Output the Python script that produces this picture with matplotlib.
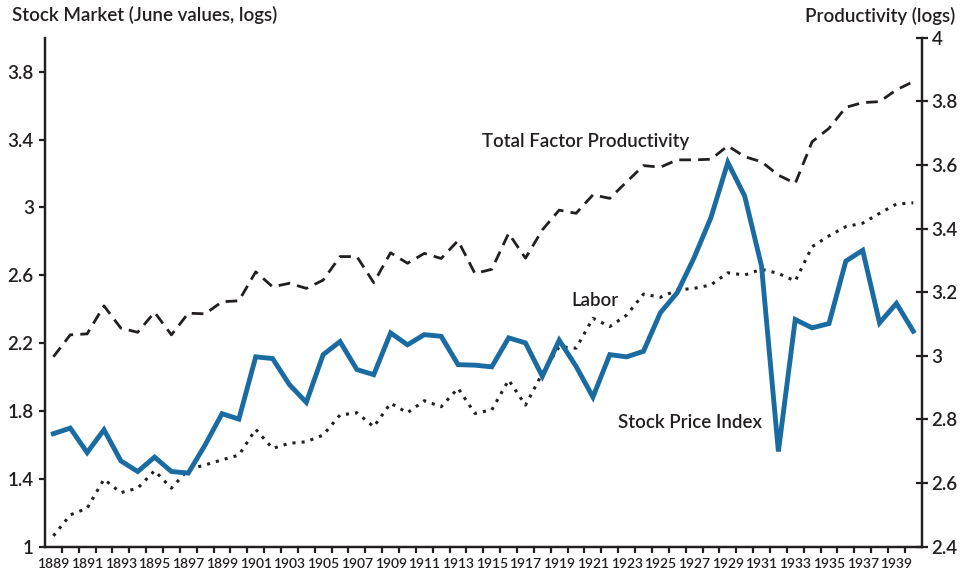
import matplotlib.pyplot as plt
import numpy as np

plt.rcParams['font.family'] = ['Lato', 'DejaVu Sans']
plt.rcParams['font.weight'] = 'semibold'

# Years 1889-1940
years = np.arange(1889, 1941)

# Stock price index (left axis, June values, logs)
stock = [1.666, 1.699, 1.555, 1.689, 1.506, 1.443, 1.528, 1.443, 1.434, 1.600,
         1.784, 1.752, 2.119, 2.109, 1.955, 1.851, 2.132, 2.209, 2.044, 2.014,
         2.260, 2.190, 2.250, 2.240, 2.073, 2.070, 2.060, 2.231, 2.201, 2.004,
         2.217, 2.063, 1.882, 2.132, 2.119, 2.152, 2.379, 2.497, 2.703, 2.940,
         3.265, 3.067, 2.654, 1.561, 2.339, 2.290, 2.315, 2.683, 2.747, 2.319,
         2.434, 2.270]

# Total factor productivity (right axis, logs)
tfp = [2.997, 3.066, 3.069, 3.157, 3.087, 3.074, 3.137, 3.066, 3.134, 3.132,
       3.170, 3.173, 3.264, 3.217, 3.228, 3.212, 3.238, 3.312, 3.312, 3.230,
       3.324, 3.291, 3.322, 3.306, 3.362, 3.259, 3.272, 3.385, 3.307, 3.396,
       3.458, 3.448, 3.506, 3.495, 3.547, 3.598, 3.593, 3.616, 3.616, 3.618,
       3.660, 3.626, 3.610, 3.568, 3.542, 3.673, 3.715, 3.781, 3.796, 3.799,
       3.836, 3.862]

# Labor productivity (right axis, logs)
labor = [2.434, 2.500, 2.521, 2.612, 2.570, 2.584, 2.639, 2.584, 2.643, 2.657,
         2.673, 2.688, 2.769, 2.709, 2.725, 2.730, 2.751, 2.814, 2.821, 2.777,
         2.851, 2.821, 2.859, 2.840, 2.898, 2.819, 2.830, 2.924, 2.845, 2.945,
         3.029, 3.024, 3.118, 3.092, 3.128, 3.194, 3.184, 3.207, 3.212, 3.223,
         3.261, 3.254, 3.272, 3.259, 3.235, 3.343, 3.377, 3.406, 3.417, 3.448,
         3.477, 3.481]

left_ticks = [1, 1.4, 1.8, 2.2, 2.6, 3, 3.4, 3.8]
right_ticks = [2.4, 2.6, 2.8, 3, 3.2, 3.4, 3.6, 3.8, 4]

ink = '#231f20'
blue = '#1a6ba1'

fig = plt.figure(figsize=(9.61, 5.80), dpi=100)
ax = fig.add_axes([0.0468, 0.0574, 0.9123, 0.8776])
ax2 = ax.twinx()

# productivity lines on the right axis
ax2.plot(years, tfp, color=ink, lw=2.0, linestyle=(0, (4.2, 2.6)))
ax2.plot(years, labor, color=ink, lw=2.2, linestyle=(0, (1.0, 2.0)))

# stock line on the left axis, drawn above the others
ax.plot(years, stock, color=blue, lw=3.5, solid_joinstyle='miter')
ax.set_zorder(ax2.get_zorder() + 1)
ax.patch.set_visible(False)

ax.set_xlim(1888.5, 1940.5)
ax.set_ylim(1, 4)
ax2.set_ylim(2.4, 4)

for a in (ax, ax2):
    a.spines['top'].set_visible(False)
    for s in ('left', 'right', 'bottom'):
        a.spines[s].set_linewidth(1.6)
        a.spines[s].set_color(ink)

# x ticks: marks at year boundaries, labels on odd years
ax.set_xticks(np.arange(1889.5, 1940, 1))
ax.set_xticklabels([])
ax.set_xticks(np.arange(1889, 1941, 2), minor=True)
ax.set_xticklabels([str(y) for y in range(1889, 1941, 2)], minor=True)
ax.tick_params(axis='x', which='major', direction='out', length=4, width=1.6, color=ink)
ax.tick_params(axis='x', which='minor', length=0, pad=8, labelsize=10, labelcolor=ink)

ax.set_yticks(left_ticks)
ax.set_yticklabels(['1', '1.4', '1.8', '2.2', '2.6', '3', '3.4', '3.8'])
ax.tick_params(axis='y', direction='out', length=4, width=1.6, color=ink,
               labelsize=13.5, labelcolor=ink, pad=4)

ax2.set_yticks(right_ticks)
ax2.set_yticklabels(['2.4', '2.6', '2.8', '3', '3.2', '3.4', '3.6', '3.8', '4'])
ax2.tick_params(axis='y', direction='inout', length=8, width=1.6, color=ink,
                labelsize=13.5, labelcolor=ink, pad=3)

# series labels
ax2.text(1914.4, 3.675, 'Total Factor Productivity', fontsize=13.4, color=ink, va='center', ha='left')
ax2.text(1919.7, 3.173, 'Labor', fontsize=13.4, color=ink, va='center', ha='left')
ax2.text(1922.5, 2.79, 'Stock Price Index', fontsize=13.4, color=ink, va='center', ha='left')

# axis titles
fig.text(0.0125, 0.974, 'Stock Market (June values, logs)', fontsize=13.5, color=ink,
         ha='left', va='center')
fig.text(0.9938, 0.972, 'Productivity (logs)', fontsize=13.5, color=ink,
         ha='right', va='center')

plt.savefig('out.png', dpi=100)
